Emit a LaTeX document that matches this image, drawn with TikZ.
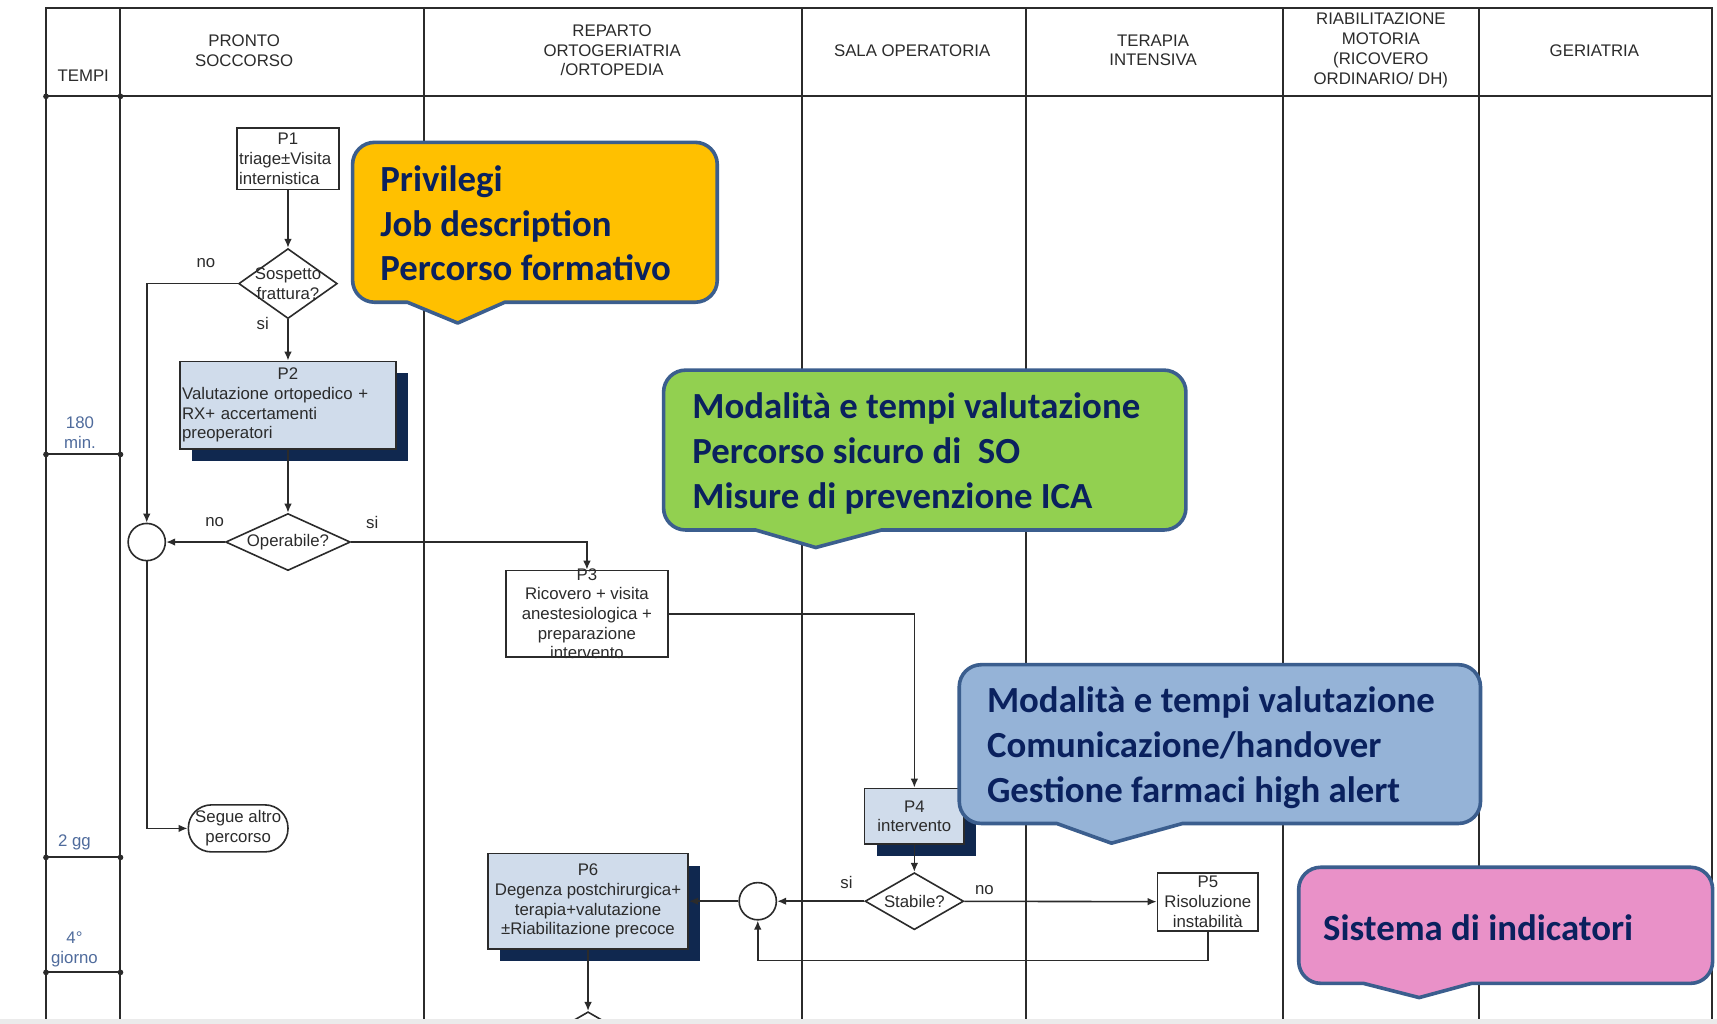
\documentclass[tikz,border=0pt]{standalone}
\usepackage{fontspec}
\setmainfont{Liberation Sans}
\newfontfamily\notefont{Carlito}
\usetikzlibrary{shapes.geometric, arrows.meta, shadows}
\definecolor{linecol}{HTML}{2B2B2B}
\definecolor{timecol}{HTML}{4F6B9C}
\definecolor{boxblue}{HTML}{D0DCEB}
\definecolor{boxshadow}{HTML}{10284F}
\definecolor{navytext}{HTML}{0A215E}
\definecolor{noteborder}{HTML}{3B5E8E}
\definecolor{noteorange}{HTML}{FFC000}
\definecolor{notegreen}{HTML}{92D050}
\definecolor{noteblue}{HTML}{95B3D7}
\definecolor{notepink}{HTML}{E991C8}

\begin{document}
\begin{tikzpicture}[x=0.5475pt, y=-0.5475pt, >={Latex[length=4.5pt,width=3.8pt]},
        tbl/.style={draw=linecol, line width=1pt},
        flow/.style={draw=linecol, line width=0.8pt},
        txt/.style={font=\fontsize{8.4}{9.86}\selectfont, text=linecol, inner sep=0pt},
        head/.style={txt, align=center},
        tempo/.style={txt, align=center, text=timecol},
        proc/.style={flow, fill=white, txt, inner sep=1pt, align=center},
        procblue/.style={proc, fill=boxblue, drop shadow={shadow xshift=6pt, shadow yshift=-6pt, fill=boxshadow, opacity=1}},
        decision/.style={diamond, flow, fill=white, inner sep=0pt, minimum width=49.3pt, minimum height=28.5pt},
        junction/.style={circle, flow, fill=white, inner sep=0pt, minimum size=18.6pt},
        terminal/.style={proc, rounded corners=11.5pt},
        note/.style={draw=noteborder, line width=1.8pt, line join=round},
        notetxt/.style={font=\notefont\bfseries\fontsize{18.4}{22.4}\selectfont, text=navytext, align=left, anchor=west, inner sep=0pt}]
    \useasboundingbox[fill=white] (0,0) rectangle (1568,935);

    % table
    \draw[tbl] (42,931) -- (42,7) -- (1563,7) -- (1563,931);
    \draw[tbl] (42,88) -- (1563,88);
    \foreach \x in {110,387,732,937,1172,1351}
        \draw[tbl] (\x,7) -- (\x,931);
    \foreach \y in {88,415,783,888} {
        \draw[tbl] (42,\y) -- (110,\y);
        \fill[linecol] (42,\y) circle[radius=2.6];
        \fill[linecol] (110,\y) circle[radius=2.6];
    }
    \node[head] (tempi) at (76,69) {TEMPI};
    \node[head] (ps) at (223,46) {PRONTO\\SOCCORSO};
    \node[head] (rep) at (559,46) {REPARTO\\ORTOGERIATRIA\\/ORTOPEDIA};
    \node[head] (sala) at (833,46) {SALA OPERATORIA};
    \node[head] (ti) at (1053,46) {TERAPIA\\INTENSIVA};
    \node[head] (riab) at (1261,46) {RIABILITAZIONE\\MOTORIA\\(RICOVERO\\ORDINARIO/ DH)};
    \node[head] (geri) at (1456,46) {GERIATRIA};
    \node[tempo] (t180) at (73,395) {180\\min.};
    \node[tempo] (t2gg) at (68,769) {2 gg};
    \node[tempo] (t4g) at (68,867) {4°\\giorno};

    % flowchart
    \node[proc, minimum width=50.9pt, minimum height=30.7pt, text width=48.9pt, align=left] (p1) at (263,145) {\hfill P1\hfill\null\\triage±Visita\\internistica};
    \node[decision, minimum height=35pt, label={[txt, align=center]center:{Sospetto\\frattura?}}] (d1) at (263,259) {};
    \node[procblue, minimum width=107.9pt, minimum height=43.8pt, text width=105.9pt, align=left] (p2) at (263,370) {\hfill P2\hfill\null\\Valutazione ortopedico +\\RX+ accertamenti\\preoperatori};
    \node[decision, minimum width=62.4pt, label={[txt]center:Operabile?}] (d2) at (263,495) {};
    \node[junction] (c1) at (134,495) {};
    \node[terminal, minimum width=49.8pt, minimum height=23.5pt] (seg) at (217.5,756.5) {Segue altro\\percorso};
    \node[proc, minimum width=81pt, minimum height=43.3pt, label={[txt, align=center]center:{P3\\Ricovero + visita\\anestesiologica +\\preparazione\\intervento}}] (p3) at (536,560.5) {};
    \node[procblue, minimum width=49.8pt, minimum height=27.9pt] (p4) at (835,745.5) {P4\\intervento};
    \node[decision, label={[txt]center:Stabile?}] (d3) at (835,823) {};
    \node[junction] (c2) at (692,823) {};
    \node[proc, minimum width=50.4pt, minimum height=29pt] (p5) at (1103,823.5) {P5\\Risoluzione\\instabilità};
    \node[procblue, minimum width=100.2pt, minimum height=47.6pt] (p6) at (537,823) {P6\\Degenza postchirurgica+\\terapia+valutazione\\±Riabilitazione precoce};
    \node[decision] (d4) at (537,950) {};
    \coordinate (back) at (692,877);

    \draw[flow,->] (p1) -- (d1);
    \draw[flow,->] (d1.west) -| (c1);
    \draw[flow,->] (d1) -- (p2);
    \draw[flow,->] (p2) -- (d2);
    \draw[flow,->] (d2) -- (c1);
    \draw[flow,->] (d2.east) -| (p3);
    \draw[flow,->] (p3) -| (p4);
    \draw[flow,->] (c1) |- (seg);
    \draw[flow,->] (p4) -- (d3);
    \draw[flow,->] (d3) -- (c2);
    \draw[flow,->] (c2) -- (p6);
    \draw[flow,->] (d3) -- (p5);
    \draw[flow,->] (p5) |- (back) -- (c2);
    \draw[flow,->] (p6) -- (d4);

    \node[txt] (no1) at (188,240) {no};
    \node[txt] (si1) at (240,295) {si};
    \node[txt] (no2) at (196,477) {no};
    \node[txt] (si2) at (340,477) {si};
    \node[txt] (si3) at (773,806) {si};
    \node[txt] (no3) at (899,813) {no};

    % callouts
    \draw[note, fill=noteorange] (480,130) [rounded corners=11pt] -- (655,130) -- (655,276) [sharp corners] -- (461,276) -- (418,295) -- (372,276) [rounded corners=11pt] -- (322,276) -- (322,130) -- cycle;
    \node[notetxt] (privilegi) at (347,204) {Privilegi\\Job description\\Percorso formativo};

    \draw[note, fill=notegreen] (850,338) [rounded corners=11pt] -- (1083,338) -- (1083,484) [sharp corners] -- (805,484) -- (745,500) -- (690,484) [rounded corners=11pt] -- (606,484) -- (606,338) -- cycle;
    \node[notetxt] (modalita1) at (632,414) {Modalità e tempi valutazione\\Percorso sicuro di\ \ SO\\Misure di prevenzione ICA};

    \draw[note, fill=noteblue] (1100,607) [rounded corners=11pt] -- (1352,607) -- (1352,752) [sharp corners] -- (1080,752) -- (1015,770) -- (965,752) [rounded corners=11pt] -- (876,752) -- (876,607) -- cycle;
    \node[notetxt] (modalita2) at (901,683) {Modalità e tempi valutazione\\Comunicazione/handover\\Gestione farmaci high alert};

    \draw[note, fill=notepink] (1400,792) [rounded corners=11pt] -- (1564,792) -- (1564,898) [sharp corners] -- (1344,898) -- (1296,911) -- (1245,898) [rounded corners=11pt] -- (1186,898) -- (1186,792) -- cycle;
    \node[notetxt] (indicatori) at (1208,847) {Sistema di indicatori};

    \fill[black!8] (0,931) rectangle (1568,935);
\end{tikzpicture}
\end{document}
